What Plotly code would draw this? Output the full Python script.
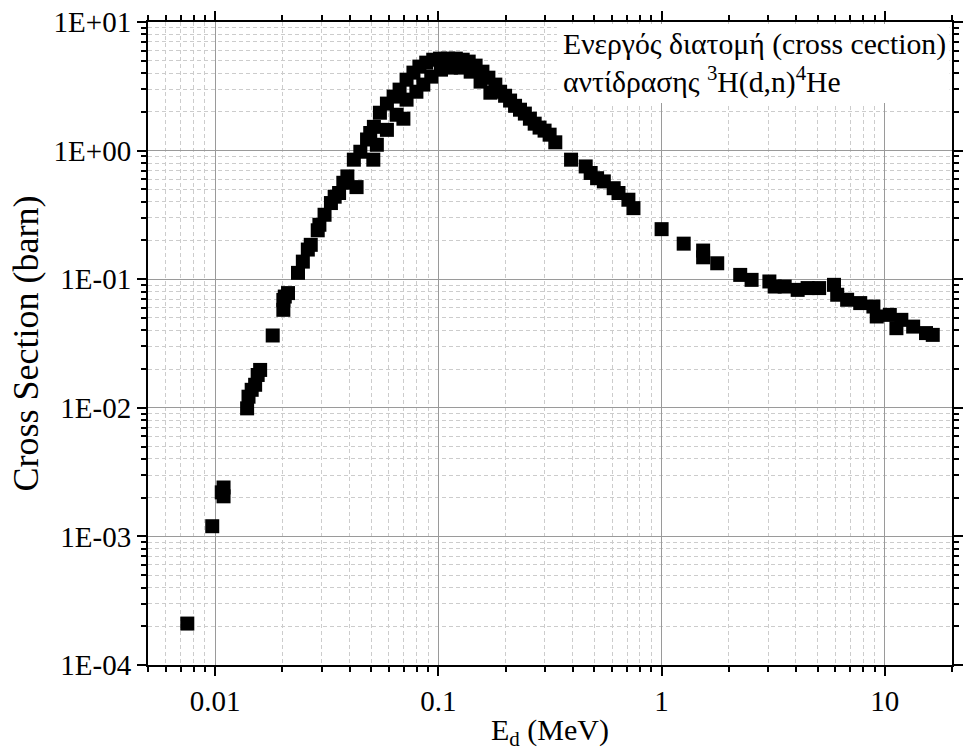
import plotly.graph_objects as go

# Deuteron energy (MeV)
energy = [
    0.0075, 0.0097, 0.0109, 0.0109, 0.0107,
    0.0139, 0.0141, 0.01457, 0.0151, 0.0155, 0.0159,
    0.0181, 0.0202, 0.0202, 0.0205, 0.0212,
    0.0235, 0.0247, 0.026, 0.0268, 0.0288, 0.0293, 0.0309, 0.033, 0.0343,
    0.0359, 0.0375, 0.0391, 0.0418, 0.043, 0.0447, 0.0479, 0.0495, 0.0511,
    0.053, 0.0514, 0.0547, 0.0588, 0.0588, 0.063, 0.065, 0.067, 0.0697,
    0.072, 0.072, 0.0773, 0.0797, 0.0822, 0.0856, 0.0882, 0.0929, 0.0948,
    0.1017, 0.1027, 0.1104, 0.1138, 0.1197, 0.126, 0.1285, 0.1367, 0.1395,
    0.1468, 0.1545, 0.1575, 0.1675, 0.171, 0.1799, 0.189, 0.199, 0.2095,
    0.2205, 0.232, 0.244, 0.257, 0.270, 0.284, 0.299, 0.315, 0.334,
    0.393, 0.457, 0.481, 0.514, 0.551, 0.61, 0.641, 0.71, 0.748,
    1.0, 1.256, 1.535, 1.535, 1.775, 2.25, 2.53, 3.04, 3.21, 3.56,
    4.07, 4.51, 5.08, 5.92, 6.12, 6.78, 7.76, 8.89, 9.2, 10.53,
    11.27, 11.86, 13.4, 15.3, 16.4,
]

# Cross section (barn)
sigma = [
    2.1e-4, 1.2e-3, 2.4e-3, 2.05e-3, 2.2e-3,
    0.0099, 0.0122, 0.0138, 0.0151, 0.018, 0.0197,
    0.0365, 0.0578, 0.069, 0.0733, 0.078,
    0.112, 0.137, 0.17, 0.185, 0.24, 0.265, 0.317, 0.391, 0.438,
    0.468, 0.562, 0.63, 0.85, 0.52, 0.98, 1.22, 1.37, 0.85,
    1.11, 1.53, 1.97, 1.45, 2.32, 2.63, 1.90, 2.98, 1.77,
    2.49, 3.56, 4.04, 2.87, 4.50, 3.26, 4.83, 3.76, 5.09,
    5.19, 4.26, 5.19, 4.42, 5.19, 4.42, 5.09, 4.92, 4.11,
    4.58, 3.44, 4.11, 3.69, 2.82, 3.26, 2.87, 2.67, 2.45,
    2.23, 2.08, 1.94, 1.77, 1.62, 1.51, 1.43, 1.33, 1.16,
    0.85, 0.753, 0.67, 0.61, 0.576, 0.51, 0.468, 0.415, 0.357,
    0.245, 0.189, 0.167, 0.148, 0.133, 0.108, 0.0988, 0.096, 0.0877, 0.0877,
    0.0826, 0.0853, 0.0853, 0.0904, 0.0757, 0.0692, 0.0652, 0.0613, 0.0513, 0.0528,
    0.0416, 0.0483, 0.0428, 0.0381, 0.0369,
]

x_major = [0.01, 0.1, 1, 10]
x_major_text = ["0.01", "0.1", "1", "10"]
x_minor = [m * 10 ** e for e in (-3, -2, -1, 0, 1) for m in range(2, 10)]
y_major = [1e-4, 1e-3, 1e-2, 1e-1, 1, 10]
y_major_text = ["1E-04", "1E-03", "1E-02", "1E-01", "1E+00", "1E+01"]
y_minor = [m * 10 ** e for e in (-4, -3, -2, -1, 0) for m in range(2, 10)]

note_line1 = "Ενεργός διατομή (cross cection)"
note_line2 = "αντίδρασης <sup>3</sup>H(d,n)<sup>4</sup>He"

FONT = "Liberation Serif"

fig = go.Figure()
fig.add_trace(go.Scatter(
    x=energy, y=sigma, mode="markers",
    marker=dict(symbol="square", size=14, color="black", line=dict(width=0)),
    showlegend=False,
))

axis_common = dict(
    type="log",
    showline=True, linecolor="black", linewidth=2, mirror="ticks",
    ticks="outside", ticklen=9, tickwidth=2, tickcolor="black",
    showgrid=True, gridcolor="#9a9a9a", gridwidth=1,
    zeroline=False,
    tickfont=dict(family=FONT, size=29, color="black"),
)

minor_common = dict(
    tickmode="array", ticks="outside", ticklen=5, tickwidth=2, tickcolor="black",
    showgrid=True, gridcolor="#cccccc", griddash="4px,3px", gridwidth=1,
)

fig.update_xaxes(
    **axis_common,
    range=[-2.30103, 1.30103],
    tickmode="array", tickvals=x_major, ticktext=x_major_text,
    minor=dict(tickvals=x_minor, **minor_common),
    title=dict(text="E<sub>d</sub> (MeV)", font=dict(family=FONT, size=30, color="black"),
               standoff=8),
)
fig.update_yaxes(
    **axis_common,
    range=[-4, 1],
    tickmode="array", tickvals=y_major, ticktext=y_major_text,
    minor=dict(tickvals=y_minor, **minor_common),
    title=dict(text="Cross Section (barn)", font=dict(family=FONT, size=36, color="black"),
               standoff=4),
)

# white box behind the note
fig.add_shape(type="rect", xref="paper", yref="paper",
              x0=0.5086, x1=0.997, y0=0.874, y1=0.997,
              fillcolor="white", line=dict(width=0), layer="above")

fig.add_annotation(
    xref="paper", yref="paper", x=0.5135, y=0.9655, xanchor="left", yanchor="middle",
    text=note_line1, showarrow=False, align="left",
    font=dict(family=FONT, size=29.7, color="black"),
)
fig.add_annotation(
    xref="paper", yref="paper", x=0.5135, y=0.9098, xanchor="left", yanchor="middle",
    text=note_line2, showarrow=False, align="left",
    font=dict(family=FONT, size=29.7, color="black"),
)

fig.update_layout(
    width=964, height=751,
    margin=dict(l=148, r=1, t=22, b=86),
    paper_bgcolor="white", plot_bgcolor="white",
    font=dict(family=FONT, color="black"),
)

fig.write_html("out.html")
